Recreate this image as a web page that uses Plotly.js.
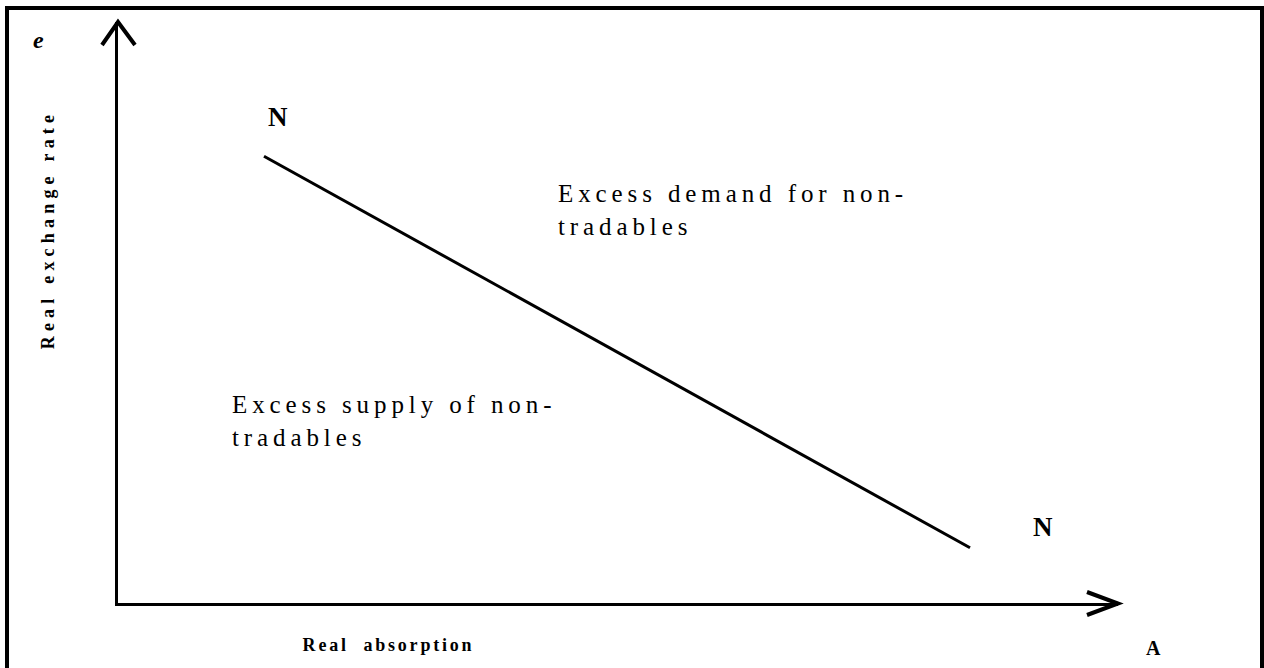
<!DOCTYPE html>
<html>
<head>
<meta charset="utf-8">
<script src="https://cdn.plot.ly/plotly-3.0.1.min.js"></script>
<style>
  html, body { margin: 0; padding: 0; background: #ffffff; }
  #chart { width: 1264px; height: 668px; }
</style>
</head>
<body>
<div id="chart"></div>
<script>
// ---- data (abstract units of the schematic diagram) ----
const curveName = "NN";
const absorption = [1.46, 8.52];      // real absorption A (x)
const exchangeRate = [7.69, 0.95];    // real exchange rate e (y)
const xRange = [0, 10];
const yRange = [0, 10];
const curveLabels = ["N", "N"];
const regionLabels = ["Excess demand for non-<br>tradables", "Excess supply of non-<br>tradables"];
const xTitle = "Real  absorption";
const yTitle = "Real exchange rate";
const xSymbol = "A";
const ySymbol = "e";

// ---- layout geometry ----
const W = 1264, H = 668;
const M = { l: 118, r: 146, t: 22, b: 65 };
const PW = W - M.l - M.r, PH = H - M.t - M.b;
const px = v => (v - M.l) / PW;          // pixel x -> paper
const py = v => (H - M.b - v) / PH;      // pixel y -> paper

const serif = "Liberation Serif, Times New Roman, serif";

const traces = [{
  type: "scatter",
  mode: "lines",
  name: curveName,
  x: absorption,
  y: exchangeRate,
  line: { color: "#000000", width: 3 },
  hoverinfo: "skip",
  showlegend: false
}];

function pathP(points) {
  return points.map((p, i) => (i ? "L" : "M") + px(p[0]) + "," + py(p[1])).join(" ");
}

const shapes = [
  // outer frame
  { type: "rect", xref: "paper", yref: "paper",
    x0: px(7), x1: px(1262), y0: py(700), y1: py(8),
    line: { color: "#000000", width: 4 }, fillcolor: "rgba(0,0,0,0)" },
  // y arrow head
  { type: "path", xref: "paper", yref: "paper",
    path: pathP([[102, 45], [118, 22], [135, 45]]),
    line: { color: "#000000", width: 4 } },
  // x arrow head
  { type: "path", xref: "paper", yref: "paper",
    path: pathP([[1087, 592], [1118, 603.5], [1087, 615]]),
    line: { color: "#000000", width: 4 } }
];

const C = { xanchor: "center", yanchor: "middle", showarrow: false };
const annotations = [
  Object.assign({ text: curveLabels[0], xref: "x", yref: "y",
    x: absorption[0] + 0.14, y: exchangeRate[0] + 0.67,
    font: { family: serif, size: 27, color: "#000", weight: "bold" } }, C),
  Object.assign({ text: curveLabels[1], xref: "paper", yref: "paper", x: px(1043), y: py(527),
    font: { family: serif, size: 27, color: "#000", weight: "bold" } }, C),
  { text: regionLabels[0], xref: "paper", yref: "paper", x: px(556), y: py(178),
    xanchor: "left", yanchor: "top", align: "left", showarrow: false,
    font: { family: serif, size: 25, color: "#000" } },
  { text: regionLabels[1], xref: "paper", yref: "paper", x: px(230), y: py(389),
    xanchor: "left", yanchor: "top", align: "left", showarrow: false,
    font: { family: serif, size: 25, color: "#000" } },
  Object.assign({ text: xTitle, xref: "paper", yref: "paper", x: px(388), y: py(645),
    font: { family: serif, size: 18, color: "#000", weight: "bold" } }, C),
  Object.assign({ text: yTitle, xref: "paper", yref: "paper", x: px(47.5), y: py(230), textangle: -90,
    font: { family: serif, size: 18, color: "#000", weight: "bold" } }, C),
  Object.assign({ text: xSymbol, xref: "paper", yref: "paper", x: px(1153), y: py(648),
    font: { family: serif, size: 20, color: "#000", weight: "bold" } }, C),
  Object.assign({ text: ySymbol, xref: "paper", yref: "paper", x: px(38.5), y: py(40),
    font: { family: serif, size: 24, color: "#000", weight: "bold", style: "italic" } }, C)
];
// letter spacing (px) per annotation index, applied through CSS so Plotly measures it
const spacing = [0, 0, 4.9, 4.9, 2.8, 5.2, 0, 0];
const css = spacing.map((s, i) => s ?
  `g.annotation[data-index="${i}"] text.annotation-text { letter-spacing: ${s}px; }` : "").join("\n");
const st = document.createElement("style");
st.textContent = css;
document.head.appendChild(st);

const layout = {
  width: W, height: H,
  margin: M,
  paper_bgcolor: "#ffffff",
  plot_bgcolor: "#ffffff",
  showlegend: false,
  xaxis: { range: xRange, showgrid: false, zeroline: false, showticklabels: false, ticks: "",
           showline: true, linecolor: "#000000", linewidth: 3, fixedrange: true },
  yaxis: { range: yRange, showgrid: false, zeroline: false, showticklabels: false, ticks: "",
           showline: true, linecolor: "#000000", linewidth: 3, fixedrange: true },
  shapes: shapes,
  annotations: annotations
};

Plotly.newPlot("chart", traces, layout, { displayModeBar: false, staticPlot: true });
</script>
</body>
</html>
